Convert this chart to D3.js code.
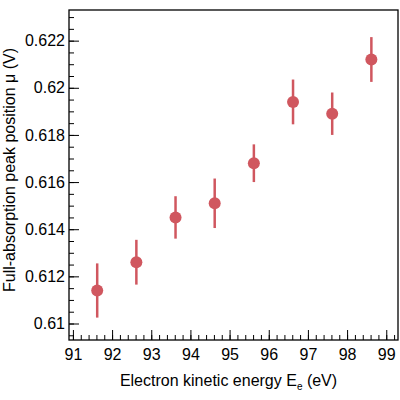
<!DOCTYPE html><html><head><script src="https://cdn.jsdelivr.net/npm/d3@7"></script>
<style>body{margin:0;background:#fff}text{font-family:"Liberation Sans",Arial,sans-serif}</style></head><body><svg id="c" width="400" height="400"></svg>
<script>
const energies=[91.62,92.62,93.62,94.62,95.62,96.62,97.62,98.62];
const mu=[0.6114,0.6126,0.6145,0.6151,0.6168,0.6194,0.6189,0.6212];
const err=[0.00115,0.00095,0.0009,0.00105,0.0008,0.00095,0.0009,0.00095];
const xTicks=[91,92,93,94,95,96,97,98,99];
const yTicks=[0.61,0.612,0.614,0.616,0.618,0.62,0.622];
const svg=d3.select("#c");
const L=69,R=398,T=10,B=340;
const x=d3.scaleLinear().domain([90.9,99.3]).range([L,R]);
const y=d3.scaleLinear().domain([0.6093,0.6233]).range([B,T]);
const col="#d0575f";
svg.append("rect").attr("x",L).attr("y",T).attr("width",R-L).attr("height",B-T).attr("fill","none").attr("stroke","#000").attr("stroke-width",1.3);
const xa=svg.append("g").attr("transform",`translate(0,${B})`).call(d3.axisTop(x).tickValues(xTicks).tickSize(10).tickFormat(d3.format("d")));
xa.select(".domain").remove();
xa.selectAll("text").attr("transform","translate(0,33)").attr("font-size",16).attr("fill","#000");
const xm=svg.append("g").attr("transform",`translate(0,${B})`).call(d3.axisTop(x).tickValues(d3.range(90.8,99.3,0.2).map(v=>+v.toFixed(1)).filter(v=>v>90.9)).tickSize(5).tickFormat(""));
xm.select(".domain").remove();
const ya=svg.append("g").attr("transform",`translate(${L},0)`).call(d3.axisRight(y).tickValues(yTicks).tickSize(10).tickFormat(d=>d3.format("")(+d.toFixed(3))));
ya.select(".domain").remove();
ya.selectAll("text").attr("x",-4).attr("text-anchor","end").attr("font-size",16).attr("fill","#000");
const ym=svg.append("g").attr("transform",`translate(${L},0)`).call(d3.axisRight(y).tickValues(d3.range(0,28).map(i=>0.6095+i*0.0005).filter(v=>v<0.6233)).tickSize(5).tickFormat(""));
ym.select(".domain").remove();
const g=svg.append("g");
energies.forEach((e,i)=>{
 g.append("line").attr("x1",x(e)).attr("x2",x(e)).attr("y1",y(mu[i]-err[i])).attr("y2",y(mu[i]+err[i])).attr("stroke",col).attr("stroke-width",2.5);
 g.append("circle").attr("cx",x(e)).attr("cy",y(mu[i])).attr("r",6).attr("fill",col);
});
svg.append("text").attr("x",(L+R)/2-5).attr("y",386).attr("text-anchor","middle").attr("font-size",16)
 .html('Electron kinetic energy E<tspan font-size="10" dy="4">e</tspan><tspan dy="-4"> (eV)</tspan>');
svg.append("text").attr("transform",`translate(15,${(T+B)/2-5}) rotate(-90)`).attr("text-anchor","middle").attr("font-size",16).text("Full-absorption peak position μ (V)");
</script></body></html>
